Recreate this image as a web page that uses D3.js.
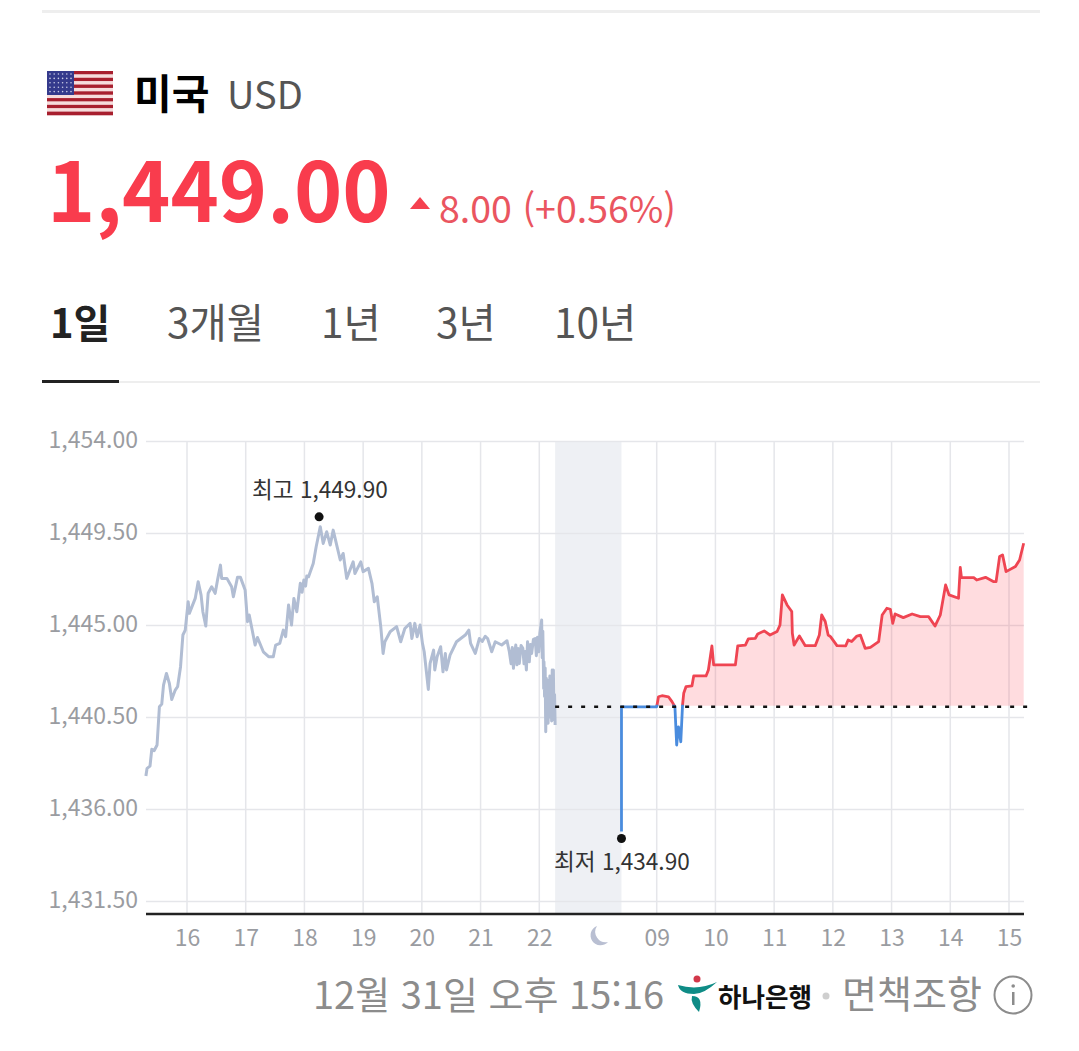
<!DOCTYPE html>
<html lang="ko">
<head>
<meta charset="UTF-8">
<title>USD</title>
<script src="https://d3js.org/d3.v7.min.js"></script>
<style>
    html, body { margin: 0; background: #fff; }
    svg { display: block; }
    text { font-family: "Noto Sans CJK KR", "Noto Sans", sans-serif; }
    .ticks text { font-size: 23px; fill: #9a9ca1; }
    .grid line { stroke: #e5e6ea; stroke-width: 1.5; }
</style>
</head>
<body>
<div id="chart"></div>
<script>
    // time = hour slot on the axis (0 = "16" tick, 7 = moon, 8 = "09" tick)
    const xLabels = ["16", "17", "18", "19", "20", "21", "22", "", "09", "10", "11", "12", "13", "14", "15"];
    const priceTicks = [1454, 1449.5, 1445, 1440.5, 1436, 1431.5];
    const prevClose = 1441;
    const high = 1449.9;
    const low = 1434.9;

    // pre-market, grey
    const preTime = [-0.70, -0.68, -0.63, -0.60, -0.56, -0.51, -0.47, -0.43, -0.40, -0.35, -0.30, -0.26, -0.20, -0.16, -0.11, -0.07, -0.03,
        0.02, 0.04, 0.14, 0.19, 0.24, 0.27, 0.32, 0.36, 0.42, 0.48, 0.52, 0.57, 0.59, 0.68, 0.76, 0.79, 0.86, 0.91, 0.99,
        1.03, 1.06, 1.16, 1.20, 1.30, 1.39, 1.47, 1.51, 1.58, 1.64, 1.68, 1.73, 1.78, 1.82, 1.87, 1.93, 1.96, 1.99, 2.02, 2.04,
        2.07, 2.15, 2.20, 2.27, 2.32, 2.38, 2.44, 2.49, 2.55, 2.61, 2.66, 2.72, 2.83, 2.86, 2.96,
        3.00, 3.09, 3.15, 3.19, 3.24, 3.30, 3.34, 3.37, 3.46, 3.57, 3.64, 3.71, 3.80, 3.83, 3.88, 3.92, 3.97,
        4.01, 4.04, 4.11, 4.14, 4.20, 4.22, 4.26, 4.32, 4.36, 4.40, 4.42, 4.48, 4.59, 4.74, 4.80, 4.83, 4.91, 4.98, 5.03, 5.08,
        5.12, 5.19, 5.25, 5.36, 5.45,
        5.49, 5.52, 5.54, 5.56, 5.58, 5.60, 5.62, 5.64, 5.66, 5.69, 5.72, 5.74, 5.76, 5.78, 5.80, 5.83, 5.85, 5.87, 5.90, 5.93, 5.95, 5.97, 5.99, 6.01,
        6.04, 6.05, 6.06, 6.07, 6.075, 6.08, 6.09, 6.10, 6.11, 6.12, 6.13, 6.14, 6.15, 6.16, 6.17, 6.18, 6.19, 6.20, 6.21, 6.22, 6.23, 6.24, 6.25, 6.26, 6.27];
    const prePrice = [1437.61, 1437.99, 1438.10, 1438.92, 1438.85, 1439.13, 1441.00, 1441.13, 1442.06, 1442.63, 1442.14, 1441.36, 1441.82, 1441.98, 1442.96, 1444.51, 1444.75,
        1446.14, 1445.57, 1446.30, 1447.12, 1446.46, 1445.65, 1444.95, 1446.55, 1446.87, 1446.55, 1447.20, 1447.93, 1447.28, 1447.28, 1446.87, 1446.38, 1447.33, 1447.33, 1446.71,
        1445.16, 1445.49, 1444.02, 1444.39, 1443.69, 1443.45, 1443.45, 1444.02, 1444.10, 1444.75, 1444.43, 1445.98, 1445.00, 1446.30, 1445.65, 1447.04, 1446.60, 1447.20, 1446.90, 1447.40,
        1447.36, 1448.01, 1448.83, 1449.81, 1448.99, 1449.56, 1448.91, 1449.64, 1448.91, 1448.18, 1448.50, 1447.28, 1448.09, 1447.52, 1448.09,
        1447.61, 1447.77, 1447.04, 1446.14, 1446.38, 1444.92, 1443.61, 1444.18, 1444.67, 1444.92, 1444.18, 1444.83, 1445.08, 1444.34, 1445.08, 1444.43, 1445.00,
        1444.10, 1443.69, 1441.85, 1443.12, 1443.77, 1442.80, 1443.45, 1443.94, 1442.71, 1443.61, 1442.80, 1443.53, 1444.18, 1444.51, 1444.75, 1444.10, 1443.61, 1444.34, 1444.20, 1444.45,
        1444.34, 1443.69, 1444.18, 1444.02, 1444.23,
        1443.69, 1443.10, 1443.90, 1442.88, 1443.60, 1444.02, 1443.05, 1443.85, 1443.12, 1444.00, 1443.86, 1443.10, 1443.70, 1442.80, 1444.18, 1443.20, 1444.05, 1443.61, 1444.30, 1444.34, 1443.50, 1444.40, 1443.69, 1444.60,
        1445.24, 1443.40, 1444.70, 1443.00, 1441.90, 1443.20, 1441.50, 1442.90, 1439.78, 1442.40, 1440.40, 1442.30, 1440.20, 1442.00, 1440.50, 1442.50, 1440.60, 1442.40, 1440.30, 1442.80, 1440.70, 1442.80, 1440.35, 1441.60, 1440.11];

    // regular session, red above prevClose and blue below
    const dayTime = [7.40, 7.40, 8.00, 8.03, 8.09, 8.20, 8.26, 8.31, 8.34, 8.37, 8.41, 8.44, 8.46, 8.50, 8.60, 8.63, 8.84, 8.88, 8.94, 8.97,
        9.34, 9.38, 9.51, 9.56, 9.68, 9.72, 9.83, 9.93, 10.05, 10.10, 10.14, 10.22, 10.30, 10.31, 10.34, 10.43, 10.53, 10.70, 10.77, 10.81, 10.87, 10.92, 10.96,
        11.07, 11.22, 11.26, 11.32, 11.41, 11.47, 11.55, 11.64, 11.78, 11.84, 11.92, 11.98, 12.02, 12.06, 12.20, 12.35, 12.49, 12.63, 12.74, 12.83, 12.92, 12.98,
        13.14, 13.17, 13.19, 13.40, 13.45, 13.60, 13.74, 13.78, 13.84, 13.89, 13.95, 14.11, 14.18, 14.25];
    const dayPrice = [1434.90, 1441.00, 1441.00, 1441.49, 1441.54, 1441.49, 1441.25, 1441.00, 1439.13, 1440.02, 1439.29, 1441.09, 1441.66, 1441.99, 1442.02, 1442.51, 1442.51, 1442.80, 1443.98, 1443.05,
        1443.05, 1443.98, 1444.02, 1444.32, 1444.35, 1444.56, 1444.71, 1444.51, 1444.68, 1445.00, 1446.47, 1445.98, 1445.66, 1444.60, 1444.02, 1444.46, 1443.99, 1443.99, 1444.51, 1445.49, 1445.17, 1444.51, 1444.43,
        1443.99, 1443.98, 1444.27, 1444.19, 1444.46, 1444.50, 1443.86, 1443.91, 1444.19, 1445.49, 1445.82, 1445.77, 1445.08, 1445.54, 1445.36, 1445.54, 1445.41, 1445.41, 1444.95, 1445.49, 1446.96, 1446.47,
        1446.31, 1447.82, 1447.32, 1447.32, 1447.20, 1447.33, 1447.12, 1447.12, 1448.35, 1448.43, 1447.61, 1447.86, 1448.18, 1449.00];

    const svg = d3.select("#chart").append("svg").attr("width", 1079).attr("height", 1051);

    const x = d3.scaleLinear().domain([0, 14]).range([187, 1009]);
    const y = d3.scaleLinear().domain([1454, 1431.5]).range([441, 901]);
    const left = 146, right = 1024, bottom = 914;

    const label = (str, px, py, size, color, weight) => svg.append("text")
        .attr("x", px).attr("y", py).attr("font-size", size).attr("fill", color)
        .attr("font-weight", weight || 400).text(str);

    // header
    svg.append("rect").attr("x", 42).attr("y", 10).attr("width", 998).attr("height", 3).attr("fill", "#eeeeee");

    const flag = svg.append("g");
    d3.range(13).forEach(i => flag.append("rect")
        .attr("x", 47).attr("y", 71 + i * 44 / 13).attr("width", 66).attr("height", 44 / 13 + 0.3)
        .attr("fill", i % 2 ? "#f6dcdc" : "#a81f2e"));
    flag.append("rect").attr("x", 47).attr("y", 71).attr("width", 27).attr("height", 24).attr("fill", "#343a8c");
    d3.range(5).forEach(r => d3.range(6).forEach(c => flag.append("circle")
        .attr("cx", 50 + c * 4.2).attr("cy", 74 + r * 4.4).attr("r", 0.8).attr("fill", "#c9cbe6")));

    label("미국", 134, 109, 41, "#000", 700);
    label("USD", 227, 109, 38, "#555", 400);
    label("1,449.00", 47, 222, 82, "#f93c4d", 700);
    svg.append("path").attr("d", "M410,209 L420,197 L430,209 Z").attr("fill", "#f5414f");
    label("8.00 (+0.56%)", 439, 223, 37, "#ea5560", 400).attr("textLength", 237).attr("lengthAdjust", "spacingAndGlyphs");

    // tabs
    label("1일", 50, 338, 40, "#222", 700);
    label("3개월", 167, 338, 40.5, "#555");
    label("1년", 321, 338, 40.5, "#555");
    label("3년", 436, 338, 40.5, "#555");
    label("10년", 554, 338, 40.5, "#555");
    svg.append("rect").attr("x", 42).attr("y", 381).attr("width", 998).attr("height", 2).attr("fill", "#eeeeee");
    svg.append("rect").attr("x", 42).attr("y", 380).attr("width", 77).attr("height", 3).attr("fill", "#222");

    // night band
    svg.append("rect").attr("x", x(6.27)).attr("y", y(1454)).attr("width", x(7.4) - x(6.27)).attr("height", bottom - y(1454))
        .attr("fill", "#eef0f4");

    // grid + axes
    svg.append("g").attr("class", "grid").selectAll("line.v")
        .data(xLabels.map((d, i) => i).filter(i => xLabels[i] !== ""))
        .enter().append("line")
        .attr("x1", d => x(d)).attr("x2", d => x(d)).attr("y1", y(1454)).attr("y2", bottom);

    const yAxis = svg.append("g").attr("class", "ticks grid").attr("transform", `translate(${left},0)`)
        .call(d3.axisRight(y).tickValues(priceTicks).tickSize(right - left).tickFormat(d3.format(",.2f")));
    yAxis.select(".domain").remove();
    yAxis.selectAll("text").attr("x", -8).attr("text-anchor", "end").attr("dy", "0.27em");

    const xAxis = svg.append("g").attr("class", "ticks").attr("transform", `translate(0,${bottom})`)
        .call(d3.axisBottom(x).tickValues(d3.range(xLabels.length)).tickSize(0).tickPadding(14).tickFormat(i => xLabels[i]));
    xAxis.select(".domain").remove();
    xAxis.selectAll("text").attr("dy", "0.8em");

    svg.append("line").attr("x1", left).attr("x2", right).attr("y1", bottom).attr("y2", bottom)
        .attr("stroke", "#222").attr("stroke-width", 2.5);

    // moon
    svg.append("path").attr("transform", `translate(${x(7)},936)`)
        .attr("d", "M-1,-10 A10,10 0 1,0 10,6 A10.5,10.5 0 0,1 -1,-10 Z").attr("fill", "#b9bfd2");

    // clips at the previous close
    const defs = svg.append("defs");
    defs.append("clipPath").attr("id", "above").append("rect")
        .attr("x", left).attr("y", 0).attr("width", right - left + 2).attr("height", y(prevClose) - 1);
    defs.append("clipPath").attr("id", "below").append("rect")
        .attr("x", left).attr("y", y(prevClose) - 2).attr("width", right - left + 2).attr("height", 400);

    const line = d3.line().x(d => x(d[0])).y(d => y(d[1]));
    const area = d3.area().x(d => x(d[0])).y0(y(prevClose)).y1(d => y(d[1]));
    const pre = preTime.map((t, i) => [t, prePrice[i]]);
    const day = dayTime.map((t, i) => [t, dayPrice[i]]);
    const session = day.slice(2);

    svg.append("path").datum(pre).attr("d", line).attr("fill", "none")
        .attr("stroke", "#b1bdd3").attr("stroke-width", 3).attr("stroke-linejoin", "round");

    svg.append("path").datum(session).attr("d", area).attr("clip-path", "url(#above)")
        .attr("fill", "#ff3f50").attr("fill-opacity", 0.18);
    svg.append("path").datum(session).attr("d", line).attr("clip-path", "url(#above)").attr("fill", "none")
        .attr("stroke", "#ef4552").attr("stroke-width", 2.8).attr("stroke-linejoin", "round");
    svg.append("path").datum(day).attr("d", line).attr("clip-path", "url(#below)").attr("fill", "none")
        .attr("stroke", "#4a8cde").attr("stroke-width", 2.8).attr("stroke-linejoin", "round");

    // previous close
    svg.append("line").attr("x1", x(6.27)).attr("x2", 1030).attr("y1", y(prevClose)).attr("y2", y(prevClose))
        .attr("stroke", "#111").attr("stroke-width", 2.6).attr("stroke-dasharray", "4,9");

    // high / low markers
    svg.append("circle").attr("cx", x(2.25)).attr("cy", y(high) - 8).attr("r", 4.5).attr("fill", "#111");
    svg.append("circle").attr("cx", x(7.4)).attr("cy", y(low) + 7).attr("r", 4.5).attr("fill", "#111");
    label("최고 1,449.90", 252, 498, 22.6, "#333");
    label("최저 1,434.90", 554, 870, 22.6, "#333");

    // footer
    label("12월 31일 오후 15:16", 313, 1009, 38, "#8c8c8c");
    svg.append("path").attr("d", "M678,985 Q698,991 717,982 Q704,994 694,994 Q680,994 678,985 Z").attr("fill", "#0f8c86");
    svg.append("path").attr("d", "M692,996 Q704,996 699,1012 Q690,1003 692,996 Z").attr("fill", "#0f8c86");
    svg.append("circle").attr("cx", 697).attr("cy", 979).attr("r", 3.5).attr("fill", "#d2384a");
    label("하나은행", 718, 1007, 26, "#111", 700).attr("textLength", 94).attr("lengthAdjust", "spacingAndGlyphs");
    svg.append("circle").attr("cx", 826).attr("cy", 996).attr("r", 3.5).attr("fill", "#cfcfcf");
    label("면책조항", 842, 1008, 38, "#8c8c8c");
    svg.append("circle").attr("cx", 1013).attr("cy", 995).attr("r", 18.5).attr("fill", "none").attr("stroke", "#8c8c8c").attr("stroke-width", 2);
    svg.append("rect").attr("x", 1012).attr("y", 992).attr("width", 2.5).attr("height", 13).attr("fill", "#8c8c8c");
    svg.append("circle").attr("cx", 1013.2).attr("cy", 986).attr("r", 1.8).attr("fill", "#8c8c8c");
</script>
</body>
</html>
